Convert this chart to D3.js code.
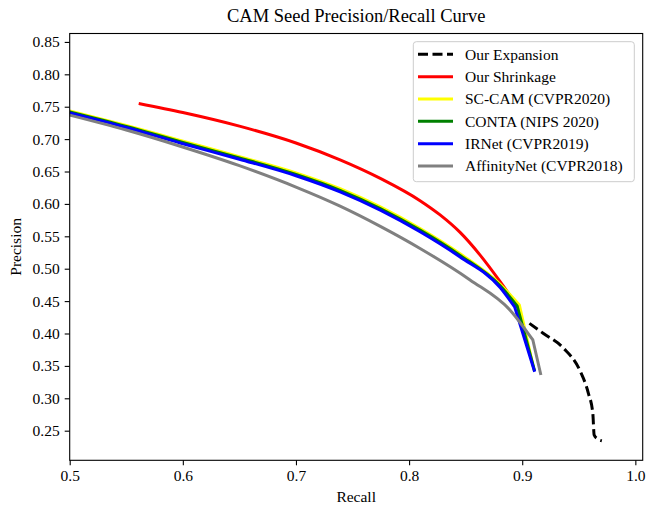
<!DOCTYPE html>
<html>
<head>
<meta charset="utf-8">
<script src="https://cdn.jsdelivr.net/npm/d3@7"></script>
<style>
  body { margin: 0; background: #fff; }
  text { font-family: "Liberation Serif", "Times New Roman", serif; fill: #000; }
</style>
</head>
<body>
<div id="chart"></div>
<script>
// values, [recall, precision]
const expansion = [[0.9064,0.4156],[0.9188,0.400],[0.9364,0.3775],[0.9512,0.342],[0.9585,0.3077],[0.9624,0.2768],[0.9636,0.2433],[0.966,0.238],[0.9704,0.2345]]
const shrinkage = [[0.561,0.755],[0.60,0.741],[0.65,0.72],[0.70,0.694],[0.739,0.668],[0.775,0.639],[0.8097,0.605],[0.8274,0.583],[0.8451,0.556],[0.8628,0.521],[0.8805,0.480],[0.8937,0.447],[0.8975,0.437]]
const sccam = [[0.5,0.7436],[0.55,0.721],[0.5977,0.698],[0.65,0.673],[0.70,0.648],[0.739,0.6235],[0.775,0.595],[0.8097,0.562],[0.8451,0.523],[0.8805,0.476],[0.8975,0.444],[0.9105,0.343]]
const conta = [[0.5,0.742],[0.55,0.7195],[0.5977,0.696],[0.65,0.671],[0.70,0.6455],[0.739,0.621],[0.775,0.5925],[0.8097,0.5595],[0.8451,0.5205],[0.8805,0.4735],[0.8955,0.4425],[0.911,0.342]]
const irnet = [[0.5,0.7405],[0.55,0.718],[0.5977,0.694],[0.65,0.669],[0.70,0.6435],[0.739,0.6186],[0.775,0.590],[0.8097,0.557],[0.8451,0.518],[0.8805,0.471],[0.8933,0.441],[0.911,0.341]]
const affinity = [[0.5,0.737],[0.55,0.714],[0.5977,0.689],[0.65,0.659],[0.70,0.626],[0.739,0.5966],[0.775,0.565],[0.8097,0.5313],[0.8539,0.4827],[0.8893,0.436],[0.9094,0.390],[0.9165,0.336]]

const seriesNames = ['Our Expansion', 'Our Shrinkage', 'SC-CAM (CVPR2020)', 'CONTA (NIPS 2020)', 'IRNet (CVPR2019)', 'AffinityNet (CVPR2018)']
const seriesColors = ['#000000', '#ff0000', '#ffff00', '#008000', '#0000ff', '#808080']
const seriesData = [expansion, shrinkage, sccam, conta, irnet, affinity]
// how many trailing points are joined by straight segments (sharp knee)
const seriesTail = [0, 0, 1, 1, 1, 1]

const xTicks = [0.5, 0.6, 0.7, 0.8, 0.9, 1.0]
const yTicks = [0.25, 0.30, 0.35, 0.40, 0.45, 0.50, 0.55, 0.60, 0.65, 0.70, 0.75, 0.80, 0.85]

const width = 646, height = 506
const margin = {top: 33.5, bottom: 45.7, left: 69.7, right: 3.3}
const fontSize = '15.5px'

const svg = d3.select('#chart')
  .append('svg')
  .attr('width', width)
  .attr('height', height)

const xScale = d3.scaleLinear()
  .domain([0.5, 1.0065])
  .range([margin.left, width - margin.right])

const yScale = d3.scaleLinear()
  .domain([0.2043, 0.863])
  .range([height - margin.bottom, margin.top])

svg.append('defs').append('clipPath').attr('id', 'clip')
  .append('rect')
  .attr('x', margin.left).attr('y', margin.top)
  .attr('width', width - margin.left - margin.right)
  .attr('height', height - margin.top - margin.bottom)

const line = d3.line()
  .x(d => xScale(d[0]))
  .y(d => yScale(d[1]))
  .curve(d3.curveMonotoneX)

function pathFor(data, tail) {
  const smooth = data.slice(0, data.length - tail)
  let p = line(smooth)
  data.slice(data.length - tail).forEach(d => {
    p += 'L' + xScale(d[0]) + ',' + yScale(d[1])
  })
  return p
}

const plot = svg.append('g').attr('clip-path', 'url(#clip)')

seriesData.forEach((data, i) => {
  plot.append('path')
    .attr('d', pathFor(data, seriesTail[i]))
    .attr('fill', 'none')
    .attr('stroke', seriesColors[i])
    .attr('stroke-width', 3)
    .attr('stroke-linejoin', 'round')
    .attr('stroke-dasharray', i === 0 ? '10,4.5' : null)
})

// axes
const xAxis = d3.axisBottom(xScale)
  .tickValues(xTicks)
  .tickFormat(d3.format('.1f'))
  .tickSize(5)
  .tickPadding(5)

const yAxis = d3.axisLeft(yScale)
  .tickValues(yTicks)
  .tickFormat(d3.format('.2f'))
  .tickSize(5)
  .tickPadding(5)

const gx = svg.append('g')
  .attr('transform', 'translate(' + [0, height - margin.bottom] + ')')
  .call(xAxis)
const gy = svg.append('g')
  .attr('transform', 'translate(' + [margin.left, 0] + ')')
  .call(yAxis)

;[gx, gy].forEach(g => {
  g.select('.domain').remove()
  g.selectAll('.tick line').attr('stroke', '#000').attr('stroke-width', 1.1)
  g.selectAll('.tick text')
    .style('font-family', '"Liberation Serif", "Times New Roman", serif')
    .style('font-size', fontSize)
    .attr('fill', '#000')
})

// frame
svg.append('rect')
  .attr('x', margin.left)
  .attr('y', margin.top)
  .attr('width', width - margin.left - margin.right)
  .attr('height', height - margin.top - margin.bottom)
  .attr('fill', 'none')
  .attr('stroke', '#000')
  .attr('stroke-width', 1.1)

// title and labels
svg.append('text')
  .attr('x', (margin.left + width - margin.right) / 2)
  .attr('y', 21.5)
  .attr('text-anchor', 'middle')
  .style('font-size', '18.5px')
  .text('CAM Seed Precision/Recall Curve')

svg.append('text')
  .attr('x', (margin.left + width - margin.right) / 2)
  .attr('y', 502)
  .attr('text-anchor', 'middle')
  .style('font-size', fontSize)
  .text('Recall')

svg.append('text')
  .attr('transform', 'translate(21,' + ((margin.top + height - margin.bottom) / 2) + ') rotate(-90)')
  .attr('text-anchor', 'middle')
  .style('font-size', fontSize)
  .text('Precision')

// legend
const legend = svg.append('g')
legend.append('rect')
  .attr('x', 413.3)
  .attr('y', 41.7)
  .attr('width', 221)
  .attr('height', 140)
  .attr('rx', 3)
  .attr('fill', '#fff')
  .attr('fill-opacity', 0.8)
  .attr('stroke', '#cccccc')
  .attr('stroke-width', 1)

seriesNames.forEach((name, i) => {
  const y = 54.3 + i * 22.35
  legend.append('line')
    .attr('x1', 418).attr('x2', 453)
    .attr('y1', y).attr('y2', y)
    .attr('stroke', seriesColors[i])
    .attr('stroke-width', 3)
    .attr('stroke-dasharray', i === 0 ? '10,4.5' : null)
  legend.append('text')
    .attr('x', 465)
    .attr('y', y)
    .attr('dy', '0.35em')
    .style('font-size', fontSize)
    .text(name)
})
</script>
</body>
</html>
